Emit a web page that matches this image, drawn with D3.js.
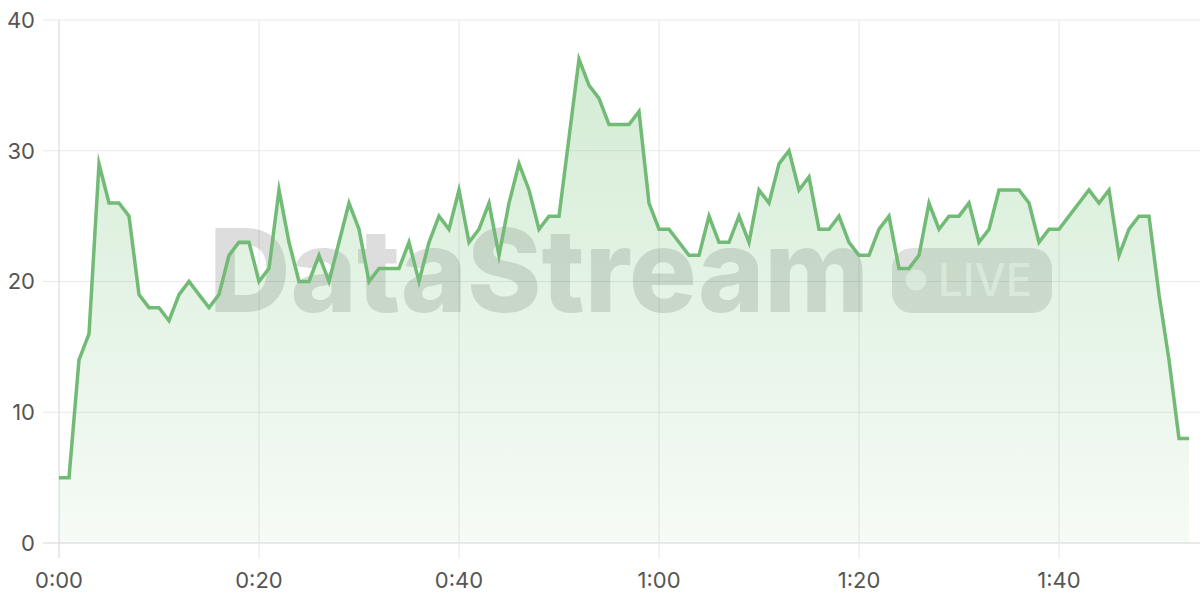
<!DOCTYPE html>
<html>
<head>
<meta charset="utf-8">
<script src="https://cdn.jsdelivr.net/npm/d3@7"></script>
<style>
  html, body { margin: 0; padding: 0; background: #fff; }
  svg { display: block; }
  text { font-family: Inter, "Noto Sans", sans-serif; }
</style>
</head>
<body>
<svg id="chart" width="1200" height="600"></svg>
<script>
// seconds elapsed for each sample
const seconds = d3.range(0, 114);
// sample values
const values = [
  5, 5, 14, 16, 29, 26, 26, 25, 19, 18,
  18, 17, 19, 20, 19, 18, 19, 22, 23, 23,
  20, 21, 27, 23, 20, 20, 22, 20, 23, 26,
  24, 20, 21, 21, 21, 23, 20, 23, 25, 24,
  27, 23, 24, 26, 22, 26, 29, 27, 24, 25,
  25, 31, 37, 35, 34, 32, 32, 32, 33, 26,
  24, 24, 23, 22, 22, 25, 23, 23, 25, 23,
  27, 26, 29, 30, 27, 28, 24, 24, 25, 23,
  22, 22, 24, 25, 21, 21, 22, 26, 24, 25,
  25, 26, 23, 24, 27, 27, 27, 26, 23, 24,
  24, 25, 26, 27, 26, 27, 22, 24, 25, 25,
  19, 14, 8, 8
];
const yTicks = [0, 10, 20, 30, 40];
const xTicks = [0, 20, 40, 60, 80, 100];
const xTickLabels = ["0:00", "0:20", "0:40", "1:00", "1:20", "1:40"];
const watermarkText = "DataStream";
const badgeText = "LIVE";

const data = seconds.map((s, i) => ({ s, v: values[i] }));

const svg = d3.select("#chart");
const x = d3.scaleLinear().domain([0, 113]).range([59, 1189]);
const y = d3.scaleLinear().domain([0, 40]).range([543, 20]);
const rightEdge = 1200;

// gradient
const defs = svg.append("defs");
const grad = defs.append("linearGradient")
  .attr("id", "areaGrad").attr("gradientUnits", "userSpaceOnUse")
  .attr("x1", 0).attr("x2", 0).attr("y1", y(40)).attr("y2", y(0));
grad.append("stop").attr("offset", "0%").attr("stop-color", "#66bb6a").attr("stop-opacity", 0.3);
grad.append("stop").attr("offset", "100%").attr("stop-color", "#66bb6a").attr("stop-opacity", 0.06);

// grid
const grid = svg.append("g");
grid.selectAll("line.h").data(yTicks).join("line")
  .attr("x1", x(0) - 16).attr("x2", rightEdge)
  .attr("y1", d => y(d)).attr("y2", d => y(d))
  .attr("stroke", d => d === 0 ? "#d6d6d6" : "#e9e9e9").attr("stroke-width", 1);
grid.selectAll("line.v").data(xTicks).join("line")
  .attr("x1", d => x(d)).attr("x2", d => x(d))
  .attr("y1", y(40)).attr("y2", y(0) + 15)
  .attr("stroke", d => d === 0 ? "#d6d6d6" : "#e6e6e6").attr("stroke-width", 1);

// watermark
const wm = svg.append("g");
wm.append("text")
  .attr("x", 209).attr("y", 312)
  .attr("font-size", 115).attr("font-weight", 800)
  .attr("textLength", 660).attr("lengthAdjust", "spacingAndGlyphs")
  .attr("fill", "rgba(0,0,0,0.135)")
  .text(watermarkText);
wm.append("rect")
  .attr("x", 892).attr("y", 248).attr("width", 160).attr("height", 65)
  .attr("rx", 20).attr("fill", "rgba(0,0,0,0.12)");
wm.append("circle").attr("cx", 916).attr("cy", 280).attr("r", 10.5)
  .attr("fill", "rgba(255,255,255,0.6)");
wm.append("text")
  .attr("x", 938).attr("y", 296)
  .attr("font-size", 45).attr("font-weight", 500)
  .attr("textLength", 94).attr("lengthAdjust", "spacingAndGlyphs")
  .attr("fill", "rgba(255,255,255,0.6)")
  .text(badgeText);

// area
const area = d3.area().x(d => x(d.s)).y0(y(0)).y1(d => y(d.v));
svg.append("path").datum(data).attr("d", area).attr("fill", "url(#areaGrad)");

// line
const line = d3.line().x(d => x(d.s)).y(d => y(d.v));
svg.append("path").datum(data).attr("d", line)
  .attr("fill", "none").attr("stroke", "#72bb76").attr("stroke-width", 3.5)
  .attr("stroke-linejoin", "miter").attr("stroke-miterlimit", 10);

// labels
svg.append("g").selectAll("text").data(yTicks).join("text")
  .attr("x", 35).attr("y", d => y(d)).attr("dy", "0.36em")
  .attr("text-anchor", "end").attr("font-size", 22).attr("fill", "#555")
  .text(d => d);
svg.append("g").selectAll("text").data(xTicks).join("text")
  .attr("x", d => x(d)).attr("y", 588)
  .attr("text-anchor", "middle").attr("font-size", 22).attr("fill", "#555")
  .text((d, i) => xTickLabels[i]);
</script>
</body>
</html>
